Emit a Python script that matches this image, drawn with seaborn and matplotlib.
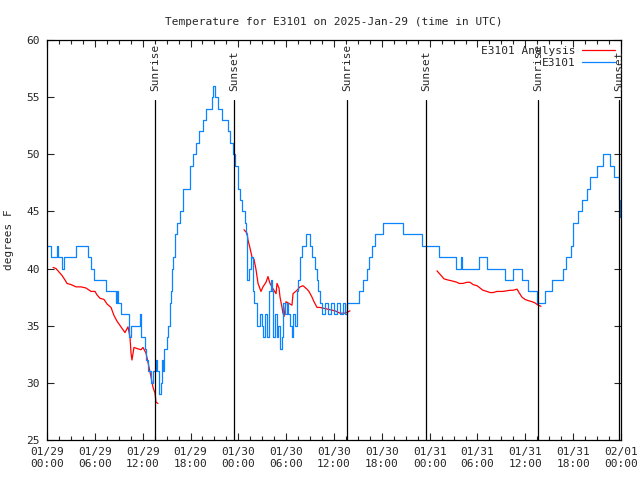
import numpy as np
import pandas as pd
import matplotlib
matplotlib.use("Agg")
import matplotlib.pyplot as plt
import matplotlib.transforms as mtransforms
from matplotlib.lines import Line2D
import seaborn as sns

# ---- data (hours since 2025-01-29 00:00 UTC) ----
blue_hours = [0.0, 0.50, 1.25, 1.38, 1.88, 2.13, 3.64, 5.15, 5.52, 5.85, 7.40, 8.66, 8.78, 8.91,
              9.30, 10.29, 10.54, 11.67, 11.79, 12.29, 12.42, 12.67, 13.05, 13.30, 13.67, 13.80,
              14.05, 14.30, 14.43, 14.55, 14.70, 15.00, 15.18, 15.40, 15.55, 15.70, 15.81, 16.00,
              16.31, 16.68, 17.06, 17.94, 18.31, 18.69, 19.07, 19.57, 19.94, 20.70, 20.82, 21.07,
              21.45, 21.95, 22.70, 23.00, 23.33, 23.58, 23.96, 24.21, 24.46, 24.84, 24.96, 25.09,
              25.34, 25.59, 25.84, 25.97, 26.34, 26.72, 26.97, 27.09, 27.34, 27.60, 27.85, 28.10,
              28.22, 28.35, 28.60, 28.85, 28.98, 29.23, 29.48, 29.60, 29.85, 30.11, 30.23, 30.48,
              30.73, 30.86, 31.11, 31.36, 31.48, 31.74, 31.99, 32.24, 32.49, 32.99, 33.24, 33.62,
              33.87, 34.00, 34.25, 34.50, 34.87, 35.25, 35.62, 36.00, 36.38, 36.75, 37.13, 37.38,
              37.63, 39.14, 39.64, 40.14, 40.39, 40.77, 41.14, 42.15, 44.66, 47.04, 49.17, 51.30,
              51.93, 52.06, 54.19, 55.19, 57.45, 58.45, 59.58, 60.34, 61.46, 62.47, 63.35, 64.73,
              65.10, 65.73, 65.98, 66.61, 67.11, 67.74, 68.11, 68.99, 69.74, 70.62, 71.13, 71.75,
              71.88, 72.00]
blue_temps = [42, 41, 42, 41, 40, 41, 42, 41, 40, 39, 38, 37, 38, 37,
              36, 34, 35, 36, 34, 33, 32, 31, 30, 31, 32, 31,
              29, 30, 32, 31, 33, 34, 35, 37, 38, 40, 41, 43,
              44, 45, 47, 49, 50, 51, 52, 53, 54, 55, 56, 55,
              54, 53, 52, 51, 50, 49, 47, 46, 45, 44, 43, 39,
              40, 41, 38, 37, 35, 36, 35, 34, 36, 34, 38, 39,
              38, 34, 36, 34, 35, 33, 34, 37, 36, 37, 36, 35,
              34, 36, 35, 38, 39, 41, 42, 42, 43, 42, 41, 40,
              39, 38, 37, 36, 37, 36, 37, 36, 37, 36, 37, 36,
              37, 38, 39, 40, 41, 42, 43, 44, 43, 42, 41, 40,
              41, 40, 41, 40, 39, 40, 39, 38, 37, 38, 39, 40,
              41, 42, 44, 45, 46, 47, 48, 49, 50, 49, 48, 46,
              44.5, 45.5]

red1_hours = [0.75, 1.13, 1.51, 1.88, 2.26, 2.51, 3.01, 3.64, 4.26, 4.89, 5.52, 6.02, 6.27, 6.65,
              7.15, 7.53, 8.03, 8.40, 8.78, 9.28, 9.78, 10.16, 10.41, 10.54, 10.66, 10.91, 11.29,
              11.79, 12.04, 12.42, 12.79, 13.05, 13.30, 13.55, 13.67, 13.92]
red1_temps = [40.1, 40.0, 39.7, 39.4, 39.0, 38.7, 38.6, 38.4, 38.4, 38.3, 38.0, 38.0, 37.7, 37.4,
              37.3, 36.9, 36.6, 35.9, 35.4, 34.9, 34.4, 34.9, 34.0, 32.6, 32.0, 33.1, 33.0,
              32.9, 33.1, 32.6, 31.4, 30.5, 29.6, 29.1, 28.3, 28.2]
red2_hours = [24.71, 25.09, 25.21, 25.46, 25.72, 25.97, 26.22, 26.47, 26.84, 27.09, 27.47, 27.72,
              27.97, 28.22, 28.47, 28.73, 28.85, 29.10, 29.23, 29.48, 29.60, 29.73, 29.98, 30.23,
              30.73, 30.86, 31.36, 31.74, 32.11, 32.61, 32.86, 33.24, 33.49, 33.87, 34.25, 34.87,
              35.50, 36.13, 36.75, 37.38, 38.01]
red2_temps = [43.4, 43.1, 42.5, 41.8, 41.0, 40.8, 39.9, 38.7, 38.0, 38.4, 38.8, 39.3,
              38.7, 38.4, 38.1, 37.8, 38.7, 38.3, 37.5, 36.6, 36.1, 35.8, 37.1, 37.0,
              36.8, 37.8, 38.1, 38.4, 38.5, 38.2, 38.0, 37.5, 37.1, 36.6, 36.6, 36.5,
              36.4, 36.3, 36.1, 36.1, 36.3]
red3_hours = [48.92, 49.17, 49.55, 49.80, 50.30, 50.93, 51.43, 51.68, 52.18, 52.68, 53.06, 53.44,
              53.94, 54.32, 54.69, 55.19, 55.57, 55.95, 56.45, 57.20, 58.08, 58.45, 58.96, 59.21,
              59.58, 59.96, 60.34, 60.84, 61.21, 61.59, 61.97]
red3_temps = [39.8, 39.6, 39.3, 39.1, 39.0, 38.9, 38.8, 38.7, 38.7, 38.8, 38.8, 38.6,
              38.5, 38.3, 38.1, 38.0, 37.9, 37.9, 38.0, 38.0, 38.1, 38.1, 38.2, 37.9,
              37.5, 37.3, 37.2, 37.1, 37.0, 36.8, 36.7]

sun_hours = [13.55, 23.46, 37.63, 47.54, 61.59, 71.75]
sun_labels = ["Sunrise", "Sunset", "Sunrise", "Sunset", "Sunrise", "Sunset"]

tick_hours = list(range(0, 73, 6))
tick_labels = ["01/29\n00:00", "01/29\n06:00", "01/29\n12:00", "01/29\n18:00",
               "01/30\n00:00", "01/30\n06:00", "01/30\n12:00", "01/30\n18:00",
               "01/31\n00:00", "01/31\n06:00", "01/31\n12:00", "01/31\n18:00",
               "02/01\n00:00"]

title = "Temperature for E3101 on 2025-Jan-29 (time in UTC)"
red_color = "#ff0000"
blue_color = "#0a84ff"

# ---- style ----
sns.set_style("ticks")
plt.rcParams["font.family"] = ["DejaVu Sans Mono", "DejaVu Sans"]
plt.rcParams["font.size"] = 8

fig = plt.figure(figsize=(6.4, 4.8), dpi=100)
ax = fig.add_axes([47 / 640, 1 - 440 / 480, (621 - 47) / 640, 400 / 480])

blue_df = pd.DataFrame({"hour": blue_hours, "temp": blue_temps})
red_df = pd.concat([
    pd.DataFrame({"hour": red1_hours, "temp": red1_temps, "seg": 1}),
    pd.DataFrame({"hour": red2_hours, "temp": red2_temps, "seg": 2}),
    pd.DataFrame({"hour": red3_hours, "temp": red3_temps, "seg": 3}),
])

sns.lineplot(data=red_df, x="hour", y="temp", units="seg", estimator=None,
             color=red_color, linewidth=0.9, ax=ax, sort=False)
sns.lineplot(data=blue_df, x="hour", y="temp", estimator=None, color=blue_color,
             linewidth=0.9, drawstyle="steps-post", ax=ax, sort=False)

trans = mtransforms.blended_transform_factory(ax.transData, ax.transAxes)
for h, lab in zip(sun_hours, sun_labels):
    ax.plot([h, h], [0, 0.85], transform=trans, color="black", linewidth=0.9)
    ax.text(h, 0.873, lab, transform=trans, rotation=90, ha="center", va="bottom",
            fontsize=8)

ax.set_xlim(0, 72)
ax.set_ylim(25, 60)
ax.set_xticks(tick_hours)
ax.set_xticklabels(tick_labels, linespacing=1.3)
ax.set_xticks(np.arange(0, 72.1, 1.5), minor=True)
ax.set_yticks(range(25, 61, 5))
ax.tick_params(which="both", direction="in", top=True, right=True, width=0.8)
ax.tick_params(which="major", length=5, pad=5)
ax.tick_params(which="minor", length=3)
for s in ax.spines.values():
    s.set_linewidth(0.9)
    s.set_color("black")

ax.set_xlabel("")
ax.set_ylabel("degrees F")
ax.yaxis.set_label_coords(-0.058, 0.5)
ax.set_title(title, fontsize=8, pad=11)

handles = [Line2D([], [], color=red_color, linewidth=0.9),
           Line2D([], [], color=blue_color, linewidth=0.9)]
ax.legend(handles, ["E3101 Analysis", "E3101"], loc="upper right", frameon=False,
          markerfirst=False, handlelength=3.0, borderaxespad=0.1, labelspacing=0.25,
          handletextpad=0.6, fontsize=8)

fig.savefig("out.png", dpi=100)
